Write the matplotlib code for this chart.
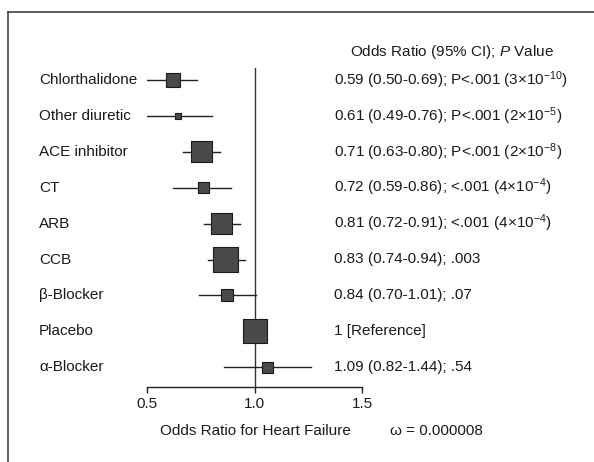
import numpy as np
import matplotlib
matplotlib.use("Agg")
import matplotlib.pyplot as plt
from matplotlib import transforms
from matplotlib.lines import Line2D

# ---- data ----
drugs = ["Chlorthalidone", "Other diuretic", "ACE inhibitor", "CT", "ARB", "CCB",
         "\u03b2-Blocker", "Placebo", "\u03b1-Blocker"]
odds = [0.59, 0.61, 0.71, 0.72, 0.81, 0.83, 0.84, 1.0, 1.09]
ci_low = [0.50, 0.49, 0.63, 0.59, 0.72, 0.74, 0.70, np.nan, 0.82]
ci_high = [0.69, 0.76, 0.80, 0.86, 0.91, 0.94, 1.01, np.nan, 1.44]
weights = [14, 6, 21, 11, 21, 25, 12, 24, 11]   # relative box sizes
result_text = [
    r"0.59 (0.50-0.69); P<.001 $(3{\times}10^{-10})$",
    r"0.61 (0.49-0.76); P<.001 $(2{\times}10^{-5})$",
    r"0.71 (0.63-0.80); P<.001 $(2{\times}10^{-8})$",
    r"0.72 (0.59-0.86); <.001 $(4{\times}10^{-4})$",
    r"0.81 (0.72-0.91); <.001 $(4{\times}10^{-4})$",
    "0.83 (0.74-0.94); .003",
    "0.84 (0.70-1.01); .07",
    "1 [Reference]",
    "1.09 (0.82-1.44); .54",
]
tick_values = [0.5, 1.0, 2.0]
tick_labels = ["0.5", "1.0", "1.5"]
header = r"Odds Ratio (95% CI); $\mathit{P}$ Value"
xlabel = "Odds Ratio for Heart Failure"
omega_text = "\u03c9 = 0.000008"

# ---- style ----
font = "Liberation Sans"
plt.rcParams["font.family"] = [font, "DejaVu Sans"]
plt.rcParams["mathtext.fontset"] = "custom"
plt.rcParams["mathtext.rm"] = font
plt.rcParams["mathtext.it"] = font + ":italic"
plt.rcParams["mathtext.default"] = "regular"
txt_color = "#1a1a1a"
fs = 11

W, H = 594, 462
fig = plt.figure(figsize=(W / 100, H / 100), dpi=100)

# axes placement (pixels)
x0, x1 = 147, 362
y_top, y_bot = 68, 387
ax = fig.add_axes([x0 / W, 1 - y_bot / H, (x1 - x0) / W, (y_bot - y_top) / H])

n = len(drugs)
ys = np.arange(n)
row_px0, row_step = 80, 35.9
ax.set_ylim((y_bot - row_px0) / row_step, (y_top - row_px0) / row_step)
ax.set_xscale("log", base=2)
ax.set_xlim(0.5, 2.0)

ax.axvline(1.0, color="#333333", lw=1.0, zorder=1)
for y, lo, hi in zip(ys, ci_low, ci_high):
    if not np.isnan(lo):
        ax.plot([lo, hi], [y, y], color="#222222", lw=1.0, zorder=2)
sizes = [(w * 0.72) ** 2 for w in weights]
ax.scatter(odds, ys, s=sizes, marker="s", facecolor="#4a4a4a",
           edgecolor="#1a1a1a", linewidth=0.8, zorder=3)

for sp in ["top", "right", "left"]:
    ax.spines[sp].set_visible(False)
ax.spines["bottom"].set_color("#222222")
ax.spines["bottom"].set_linewidth(1.0)
ax.set_yticks([])
ax.xaxis.set_minor_locator(matplotlib.ticker.NullLocator())
ax.set_xticks(tick_values)
ax.set_xticklabels(tick_labels)
ax.tick_params(axis="x", direction="out", length=4, width=1.0, color="#222222",
               labelsize=fs, labelcolor=txt_color, pad=3)
ax.patch.set_visible(False)

# texts
trans = transforms.blended_transform_factory(fig.transFigure, ax.transData)
for y, d, r in zip(ys, drugs, result_text):
    ax.text(39 / W, y, d, transform=trans, ha="left", va="center",
            fontsize=fs, color=txt_color)
    ax.text(334 / W, y, r, transform=trans, ha="left", va="center",
            fontsize=fs, color=txt_color)
fig.text(452 / W, 1 - 52 / H, header, ha="center", va="center",
         fontsize=fs, color=txt_color)
fig.text(255 / W, 1 - 431 / H, xlabel, ha="center", va="center",
         fontsize=fs, color=txt_color)
fig.text(390 / W, 1 - 431 / H, omega_text, ha="left", va="center",
         fontsize=fs, color=txt_color)

# frame lines (left and top)
fig.add_artist(Line2D([8 / W, 8 / W], [0, 1 - 12 / H], color="#333333", lw=1.1))
fig.add_artist(Line2D([8 / W, 1], [1 - 12 / H, 1 - 12 / H], color="#333333", lw=1.1))

fig.savefig("out.png", dpi=100)
